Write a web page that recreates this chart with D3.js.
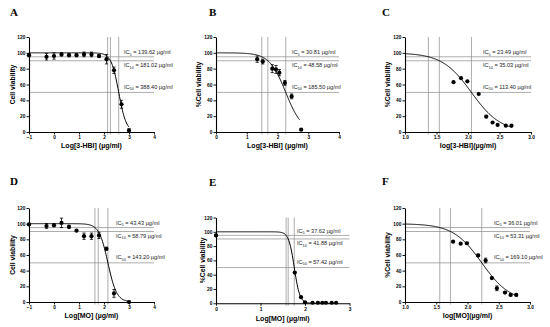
<!DOCTYPE html>
<html>
<head>
<meta charset="utf-8">
<script src="https://cdn.jsdelivr.net/npm/d3@7"></script>
<style>
  body { margin: 0; background: #fff; }
  svg { display: block; }
</style>
</head>
<body>
<svg id="fig" width="550" height="327" font-family="Liberation Sans, Arial, sans-serif"></svg>
<script>
// ---- data ----
var yTicks = [0, 20, 40, 60, 80, 100, 120];

// A: 3-HBI, log scale -1..4
var aX = [-1, -0.3, 0, 0.3, 0.6, 0.9, 1.2, 1.5, 1.8, 2.1, 2.4, 2.7, 3.0];
var aY = [97, 95, 96, 98, 97, 97, 98, 98, 96, 92, 78, 35, 2];
var aErr = [2, 4, 4, 2, 2, 2, 3, 3, 2, 6, 4, 5, 2];
var aIC = [139.62, 181.02, 388.40];
var aTicks = [-1, 0, 1, 2, 3, 4];

// B: 3-HBI, 0..4
var bX = [1.34, 1.52, 1.83, 1.95, 2.06, 2.24, 2.46, 2.77];
var bY = [92, 89, 80, 79, 75, 62, 45, 3];
var bErr = [4, 3, 5, 5, 4, 3, 3, 1];
var bIC = [30.81, 48.58, 185.50];
var bTicks = [0, 1, 2, 3, 4];

// C: 3-HBI, 1.0..3.0
var cX = [1.77, 1.89, 1.99, 2.17, 2.29, 2.39, 2.47, 2.60, 2.69];
var cY = [63, 68, 64, 48, 19.5, 12, 9, 8, 8];
var cErr = [0, 0, 0, 0, 1.5, 0, 0, 0, 0];
var cIC = [23.49, 35.03, 113.40];
var cTicks = [1.0, 1.5, 2.0, 2.5, 3.0];

// D: MO, -1..4
var dX = [-1, -0.3, 0, 0.3, 0.6, 0.9, 1.2, 1.5, 1.8, 2.1, 2.4, 3.0];
var dY = [99, 97, 98, 101, 96, 91, 84, 84, 85, 68, 11, 0];
var dErr = [1, 3, 2, 6, 2, 1, 4, 4, 4, 2, 5, 1];
var dIC = [43.43, 58.79, 143.20];
var dTicks = [-1, 0, 1, 2, 3, 4];

// E: MO, 0..3
var eX = [0, 1.77, 1.91, 2.0, 2.17, 2.29, 2.39, 2.47, 2.6, 2.7];
var eY = [95, 43, 8.6, 1.5, 0.8, 0.8, 0.8, 0.8, 0.8, 0.8];
var eErr = [1.5, 1, 1, 1, 0, 0, 0, 0, 0, 0];
var eIC = [37.62, 41.88, 57.42];
var eTicks = [0, 1, 2, 3];

// F: MO, 1.0..3.0
var fX = [1.77, 1.89, 1.99, 2.17, 2.29, 2.39, 2.47, 2.60, 2.69, 2.78];
var fY = [77, 74.5, 75, 59.5, 53, 30.5, 17.5, 12, 9, 9];
var fErr = [1, 1, 1.2, 1.5, 3, 1, 3, 1, 1, 1];
var fIC = [36.01, 53.31, 169.10];
var fTicks = [1.0, 1.5, 2.0, 2.5, 3.0];

var icLevels = [95, 90, 50];
var icNames = ["5", "10", "50"];

// ---- layout per panel ----
var panels = [
  {id: "A", x: aX, y: aY, err: aErr, ic: aIC, ticks: aTicks, dom: [-1, 4], fmt: d3.format("d"),
   left: 29, right: 154, top: 37, bottom: 132, curve: [-1, 3.0],
   letterX: 10, letterY: 16, yTitle: "Cell viability", yTitleX: 13,
   xTitle: "Log[3-HBI] (\u00b5g/ml)", xTitleY: 148, labelX: 124},
  {id: "B", x: bX, y: bY, err: bErr, ic: bIC, ticks: bTicks, dom: [0, 4], fmt: d3.format("d"),
   left: 216, right: 339, top: 37, bottom: 132, curve: [0, 2.72],
   letterX: 209, letterY: 16, yTitle: "%Cell viability", yTitleX: 199,
   xTitle: "Log[3-HBI] (\u00b5g/ml)", xTitleY: 148, labelX: 292},
  {id: "C", x: cX, y: cY, err: cErr, ic: cIC, ticks: cTicks, dom: [1, 3], fmt: d3.format(".1f"),
   left: 405, right: 531, top: 37, bottom: 132, curve: [1.0, 2.7],
   letterX: 382, letterY: 16, yTitle: "%Cell viability", yTitleX: 388,
   xTitle: "log[3-HBI](\u00b5g/ml)", xTitleY: 148, labelX: 483},
  {id: "D", x: dX, y: dY, err: dErr, ic: dIC, ticks: dTicks, dom: [-1, 4], fmt: d3.format("d"),
   left: 29, right: 154, top: 208, bottom: 302, curve: [-1, 3.0],
   letterX: 10, letterY: 185, yTitle: "Cell viability", yTitleX: 13,
   xTitle: "Log[MO] (\u00b5g/ml)", xTitleY: 318, labelX: 116},
  {id: "E", x: eX, y: eY, err: eErr, ic: eIC, ticks: eTicks, dom: [0, 3], fmt: d3.format("d"),
   left: 216, right: 349.5, top: 217.5, bottom: 303.3, curve: [0, 2.7],
   letterX: 209, letterY: 186, yTitle: "%Cell viability", yTitleX: 203,
   xTitle: "Log[MO] (\u00b5g/ml)", xTitleY: 321, labelX: 297},
  {id: "F", x: fX, y: fY, err: fErr, ic: fIC, ticks: fTicks, dom: [1, 3], fmt: d3.format(".1f"),
   left: 405, right: 530, top: 208, bottom: 302, curve: [1.0, 2.8],
   letterX: 382, letterY: 185, yTitle: "%Cell viability", yTitleX: 388,
   xTitle: "log[MO](\u00b5g/ml)", xTitleY: 318, labelX: 494}
];

var svg = d3.select("#fig");

panels.forEach(drawPanel);

function drawPanel(p) {
  var g = svg.append("g");
  var x = d3.scaleLinear().domain(p.dom).range([p.left, p.right]);
  var y = d3.scaleLinear().domain([0, 120]).range([p.bottom, p.top]);

  // Hill fit (top 100, bottom 0) from the reported IC values
  var logIC = p.ic.map(function(v) { return Math.log10(v); });
  var hill = Math.log10(9) / (logIC[2] - logIC[1]);
  var fit = function(lx) { return 100 / (1 + Math.pow(10, (lx - logIC[2]) * hill)); };

  // reference lines
  g.selectAll(".hline").data(icLevels).enter().append("line")
    .attr("x1", p.left).attr("x2", p.right)
    .attr("y1", function(d) { return y(d); }).attr("y2", function(d) { return y(d); })
    .attr("stroke", "#8a8a8a").attr("stroke-width", 0.7);
  g.selectAll(".vline").data(logIC).enter().append("line")
    .attr("x1", function(d) { return x(d); }).attr("x2", function(d) { return x(d); })
    .attr("y1", y(120)).attr("y2", p.bottom + 2.5)
    .attr("stroke", "#8a8a8a").attr("stroke-width", 0.7);

  // axes
  var yAxis = g.append("g").attr("transform", "translate(" + p.left + ",0)")
    .call(d3.axisLeft(y).tickValues(yTicks).tickSize(2.5).tickSizeOuter(0).tickPadding(1.2));
  var xAxis = g.append("g").attr("transform", "translate(0," + p.bottom + ")")
    .call(d3.axisBottom(x).tickValues(p.ticks).tickFormat(p.fmt).tickSize(2.5).tickSizeOuter(0).tickPadding(1.5));
  [yAxis, xAxis].forEach(function(a) {
    a.attr("font-family", null);
    a.select(".domain").attr("stroke", "#000").attr("stroke-width", 1.1);
    a.selectAll(".tick line").attr("stroke", "#000").attr("stroke-width", 0.9);
    a.selectAll(".tick text").attr("font-size", 4.8).attr("font-weight", "bold").attr("fill", "#000");
  });

  // fitted curve
  var xs = d3.range(0, 201).map(function(i) { return p.curve[0] + (p.curve[1] - p.curve[0]) * i / 200; });
  g.append("path")
    .attr("d", d3.line().x(function(d) { return x(d); }).y(function(d) { return y(fit(d)); })(xs))
    .attr("fill", "none").attr("stroke", "#000").attr("stroke-width", 1);

  // error bars + points
  var pts = p.x.map(function(v, i) { return {x: v, y: p.y[i], e: p.err[i]}; });
  var eb = g.selectAll(".eb").data(pts.filter(function(d) { return d.e > 0; })).enter().append("g");
  eb.append("line")
    .attr("x1", function(d) { return x(d.x); }).attr("x2", function(d) { return x(d.x); })
    .attr("y1", function(d) { return y(d.y + d.e); }).attr("y2", function(d) { return y(d.y - d.e); })
    .attr("stroke", "#000").attr("stroke-width", 0.8);
  eb.selectAll(".cap").data(function(d) { return [d.y + d.e, d.y - d.e].map(function(v) { return {x: d.x, v: v}; }); })
    .enter().append("line")
    .attr("x1", function(d) { return x(d.x) - 1.6; }).attr("x2", function(d) { return x(d.x) + 1.6; })
    .attr("y1", function(d) { return y(d.v); }).attr("y2", function(d) { return y(d.v); })
    .attr("stroke", "#000").attr("stroke-width", 0.8);
  g.selectAll(".pt").data(pts).enter().append("circle")
    .attr("cx", function(d) { return x(d.x); }).attr("cy", function(d) { return y(d.y); })
    .attr("r", 2.1).attr("fill", "#000");

  // IC labels
  var labY = [y(95) - 2.5, y(90) + 6.5, y(50) - 3.5];
  icLevels.forEach(function(lv, i) {
    var t = g.append("text").attr("x", p.labelX).attr("y", labY[i])
      .attr("font-size", 5.6).attr("fill", "#222");
    t.append("tspan").text("IC");
    t.append("tspan").attr("font-size", 3.8).attr("dy", 1.3).text(icNames[i]);
    t.append("tspan").attr("dy", -1.3).text(" = " + d3.format(".2f")(p.ic[i]) + " \u00b5g/ml");
  });

  // titles
  g.append("text").attr("x", (p.left + p.right) / 2).attr("y", p.xTitleY)
    .attr("text-anchor", "middle").attr("font-size", 7).attr("font-weight", "bold")
    .attr("fill", "#000").text(p.xTitle);
  g.append("text")
    .attr("transform", "translate(" + p.yTitleX + "," + ((p.top + p.bottom) / 2) + ") rotate(-90)")
    .attr("text-anchor", "middle").attr("dy", "0.35em")
    .attr("font-size", 6.8).attr("font-weight", "bold").attr("fill", "#000").text(p.yTitle);
  g.append("text").attr("x", p.letterX).attr("y", p.letterY)
    .attr("font-family", "Liberation Serif, Times New Roman, serif")
    .attr("font-size", 11).attr("font-weight", "bold").attr("fill", "#000").text(p.id);
}
</script>
</body>
</html>
